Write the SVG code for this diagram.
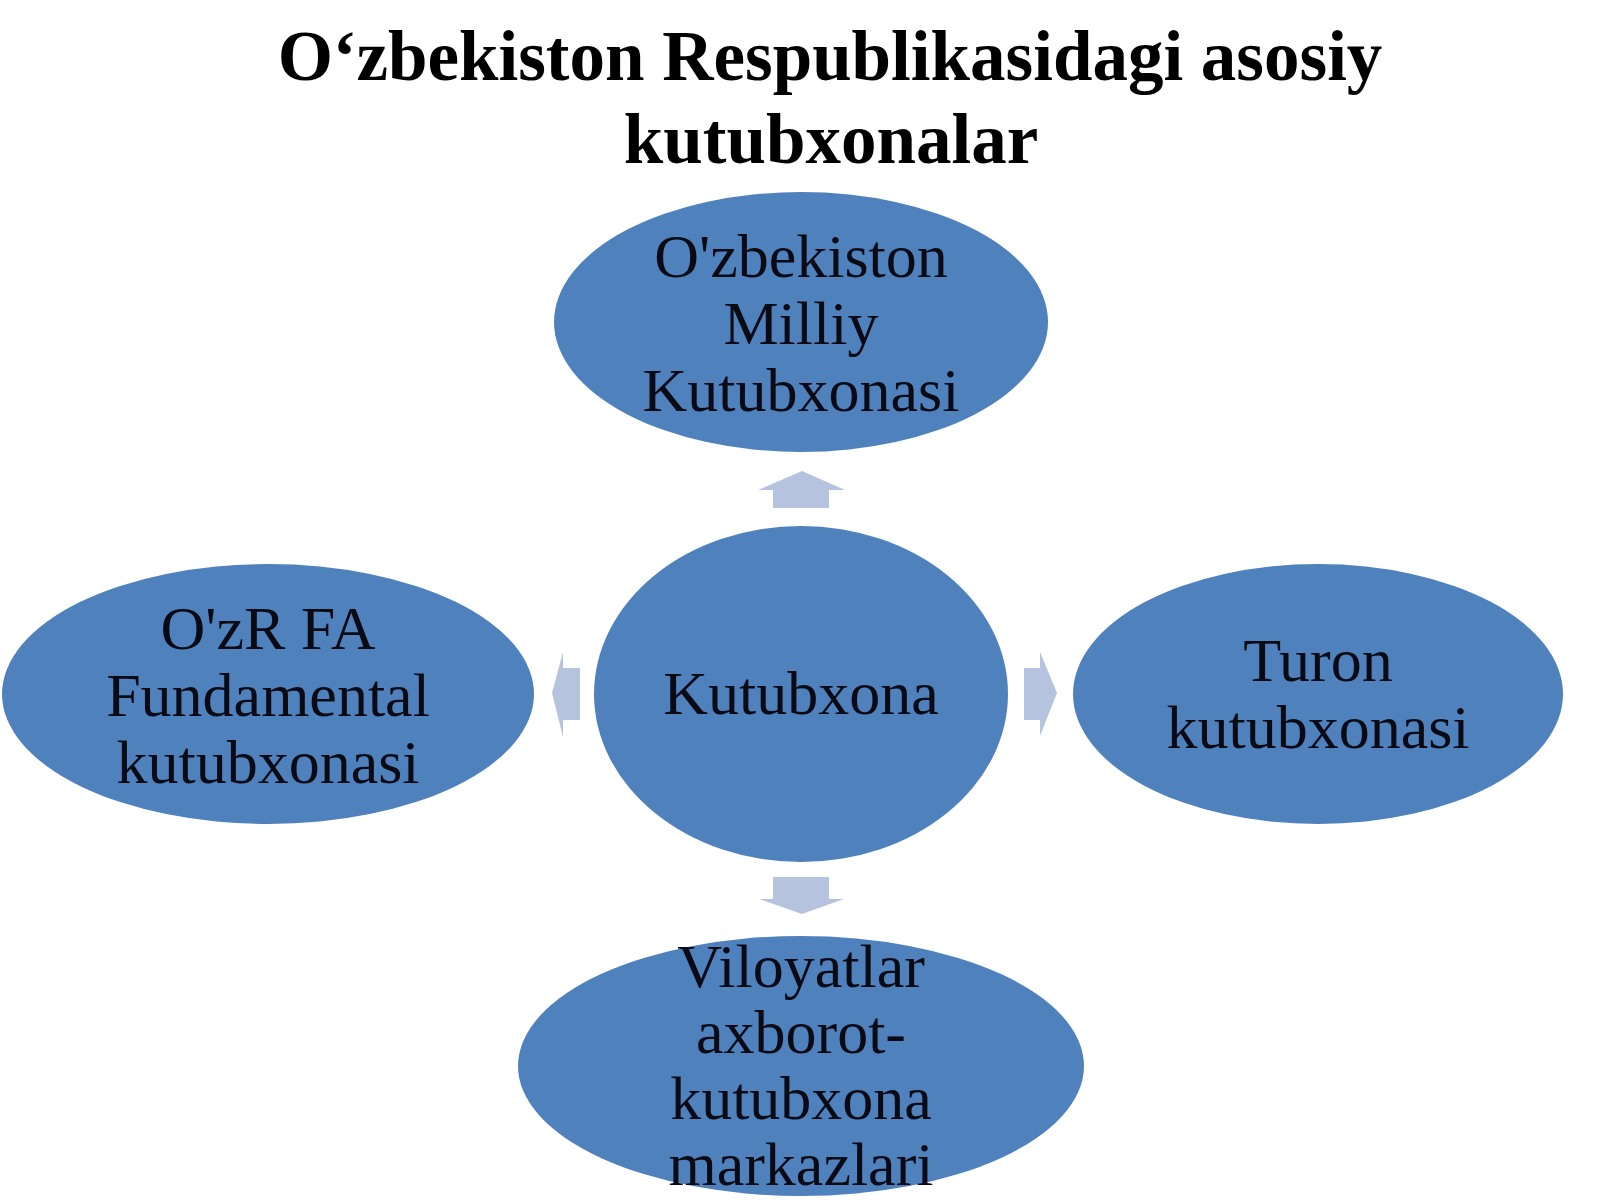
<svg xmlns="http://www.w3.org/2000/svg" width="1600" height="1200" viewBox="0 0 1600 1200">
<style>
.title{font-family:"Liberation Serif","Times New Roman",serif;font-weight:bold;font-size:71px;fill:#000;text-anchor:middle}
.lbl{font-family:"Liberation Serif","Times New Roman",serif;font-size:62px;fill:#0a0a14;text-anchor:middle}
.node{fill:#4f81bd}
.arr{fill:#b5c3de}
</style>
<rect width="1600" height="1200" fill="#ffffff"/>
<g id="title">
<text class="title" x="830" y="80">O‘zbekiston Respublikasidagi asosiy</text>
<text class="title" x="831" y="163">kutubxonalar</text>
</g>
<g id="connectors">
<polygon class="arr" points="773,508 773,490 758,490 802,471 845,490 829,490 829,508"/>
<polygon class="arr" points="773,877 829,877 829,899 844,899 802,914 759,899 773,899"/>
<polygon class="arr" points="580,668 580,720 563,720 563,737 552,693 563,652 563,668"/>
<polygon class="arr" points="1024,668 1040,668 1040,652 1057,693 1040,736 1040,720 1024,720"/>
</g>
<g id="node-top">
<ellipse class="node" cx="801" cy="322" rx="247" ry="130"/>
<text class="lbl" x="801" y="277">O'zbekiston</text>
<text class="lbl" x="801" y="344">Milliy</text>
<text class="lbl" x="801" y="411">Kutubxonasi</text>
</g>
<g id="node-center">
<ellipse class="node" cx="801" cy="694" rx="207" ry="168"/>
<text class="lbl" x="801" y="714">Kutubxona</text>
</g>
<g id="node-left">
<ellipse class="node" cx="268" cy="694" rx="266" ry="130"/>
<text class="lbl" x="268" y="649">O'zR FA</text>
<text class="lbl" x="268" y="716">Fundamental</text>
<text class="lbl" x="268" y="783">kutubxonasi</text>
</g>
<g id="node-right">
<ellipse class="node" cx="1318" cy="694" rx="245" ry="130"/>
<text class="lbl" x="1318" y="681">Turon</text>
<text class="lbl" x="1318" y="748">kutubxonasi</text>
</g>
<g id="node-bottom">
<ellipse class="node" cx="801" cy="1066" rx="283" ry="130"/>
<text class="lbl" x="801" y="987">Viloyatlar</text>
<text class="lbl" x="801" y="1053">axborot-</text>
<text class="lbl" x="801" y="1119">kutubxona</text>
<text class="lbl" x="801" y="1185">markazlari</text>
</g>
</svg>
